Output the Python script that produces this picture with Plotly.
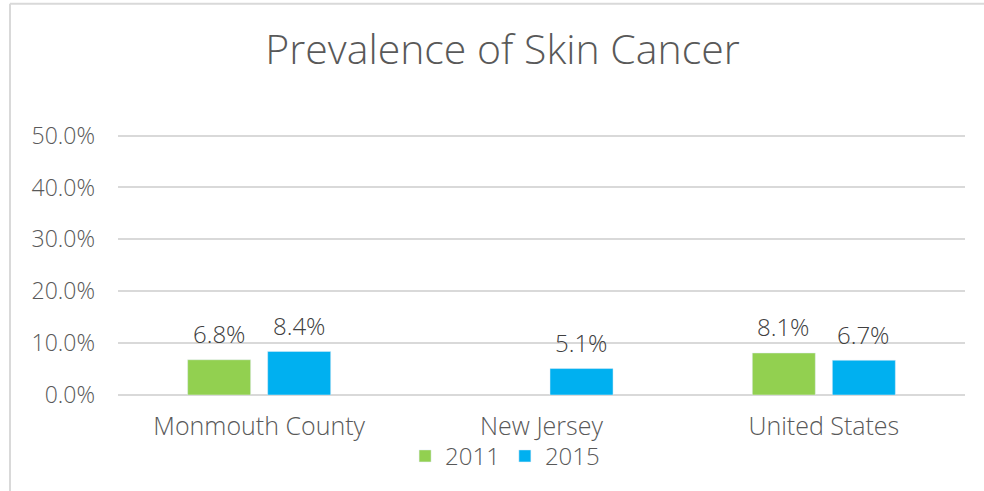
import plotly.graph_objects as go

categories = ["Monmouth County", "New Jersey", "United States"]
series_names = ["2011", "2015"]
values_2011 = [6.8, None, 8.1]
values_2015 = [8.4, 5.1, 6.7]
y_ticks = [0, 10, 20, 30, 40, 50]
y_tick_labels = ["0.0%", "10.0%", "20.0%", "30.0%", "40.0%", "50.0%"]

colors = ["#92D050", "#00B0F0"]
FONT = "Open Sans"

fig = go.Figure()
offsets = [-40, 40]
for name, vals, col, dx in zip(series_names, [values_2011, values_2015], colors, offsets):
    fig.add_trace(go.Bar(x=categories, y=vals, name=name, marker_color=col))
    for c, v in zip(categories, vals):
        if v is None:
            continue
        fig.add_annotation(x=c, y=v, text=f"{v:.1f}%", showarrow=False,
                           xshift=dx, yshift=26, yanchor="middle",
                           font=dict(family=FONT, size=24, color="#404040", weight=300))

fig.update_layout(
    width=984, height=491,
    margin=dict(l=118, r=19, t=133, b=94),
    paper_bgcolor="white", plot_bgcolor="white",
    barmode="group", bargap=0.433, bargroupgap=0.2125,
    title=dict(text="Prevalence of Skin Cancer", x=0.5107, xanchor="center",
               y=1 - 50 / 491, yanchor="middle",
               font=dict(family=FONT, size=41, color="#595959", weight=300)),
    font=dict(family=FONT, color="#595959"),
    showlegend=True,
    legend=dict(orientation="h", x=0.457, xanchor="center", y=-0.234, yanchor="middle",
                bgcolor="rgba(0,0,0,0)",
                font=dict(family=FONT, size=24, color="#595959", weight=300),
                itemwidth=30, traceorder="normal"),
    yaxis=dict(range=[0, 50.5], tickvals=y_ticks, ticktext=y_tick_labels,
               showgrid=True, gridcolor="#D9D9D9", gridwidth=1.5,
               zeroline=True, zerolinecolor="#D9D9D9", zerolinewidth=1.5,
               showline=False, ticks="", ticklabelstandoff=22,
               tickfont=dict(family=FONT, size=23, color="#595959", weight=300)),
    xaxis=dict(showgrid=False, showline=False, ticks="", ticklabelstandoff=14,
               tickfont=dict(family=FONT, size=25, color="#595959", weight=300)),
    shapes=[
        dict(type="line", xref="paper", yref="paper", x0=-0.1275, x1=1.1, y0=1.4935, y1=1.4935,
             line=dict(color="#D9D9D9", width=2)),
        dict(type="line", xref="paper", yref="paper", x0=-0.1275, x1=-0.1275, y0=1.4935, y1=-0.5,
             line=dict(color="#D9D9D9", width=2)),
    ],
)

fig.write_html("out.html", config={"displayModeBar": False},
               post_script="document.body.style.margin='0';")
